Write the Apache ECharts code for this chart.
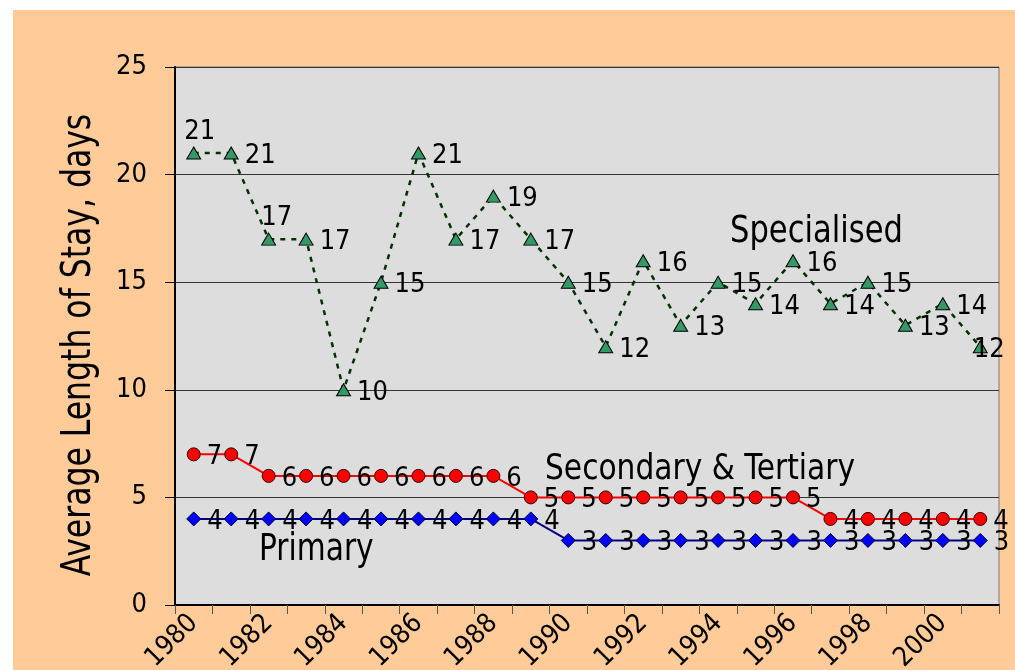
<!DOCTYPE html>
<html>
<head>
<meta charset="utf-8">
<script src="https://cdn.jsdelivr.net/npm/echarts@6/dist/echarts.min.js"></script>
<style>
  html, body { margin: 0; padding: 0; background: #ffffff; }
  #chart { position: absolute; left: 13px; top: 10px; width: 1002px; height: 660px; }
</style>
</head>
<body>
<div id="chart"></div>
<script>
// Average length of hospital stay by hospital type, 1980-2001
const years = ['1980','1981','1982','1983','1984','1985','1986','1987','1988','1989','1990',
               '1991','1992','1993','1994','1995','1996','1997','1998','1999','2000','2001'];
const specialised = [21, 21, 17, 17, 10, 15, 21, 17, 19, 17, 15, 12, 16, 13, 15, 14, 16, 14, 15, 13, 14, 12];
const secondaryTertiary = [7, 7, 6, 6, 6, 6, 6, 6, 6, 5, 5, 5, 5, 5, 5, 5, 5, 4, 4, 4, 4, 4];
const primary = [4, 4, 4, 4, 4, 4, 4, 4, 4, 4, 3, 3, 3, 3, 3, 3, 3, 3, 3, 3, 3, 3];
const yTicks = [0, 5, 10, 15, 20, 25];
const axisTitle = 'Average Length of Stay, days';
const seriesNames = ['Specialised', 'Secondary & Tertiary', 'Primary'];

const COND = '"DejaVu Sans Condensed", "Liberation Sans", sans-serif';

const valueLabel = {
  show: true,
  position: 'right',
  distance: 6,
  offset: [0, 3],
  color: '#000000',
  fontFamily: COND,
  fontSize: 27
};

// per-point label tweaks for the specialised line where labels would collide
const specialLabelTweaks = {
  0: { position: 'top', distance: 1, offset: [6, 0] },
  2: { position: 'top', distance: 1, offset: [8, 0] },
  21: { position: 'right', distance: 6, offset: [-20, 3] }
};

function withLabels(values, tweaks) {
  return values.map((v, i) => tweaks && tweaks[i] ? { value: v, label: tweaks[i] } : v);
}

// tall condensed caption text
function caption(text, x, y, size, stretch, extra) {
  return Object.assign({
    type: 'text', x: x, y: y, z: 10, scaleY: stretch,
    style: { text: text, font: size + 'px ' + COND, fill: '#000000', verticalAlign: 'middle', align: 'left' }
  }, extra || {});
}

const chart = echarts.init(document.getElementById('chart'), null, { renderer: 'canvas' });

chart.setOption({
  backgroundColor: '#FFCC99',
  animation: false,
  grid: {
    left: 162, top: 57, right: 16, bottom: 65,
    outerBoundsMode: 'none',
    containLabel: false,
    show: true,
    backgroundColor: '#DDDDDD',
    borderColor: '#777777',
    borderWidth: 1
  },
  xAxis: {
    type: 'category',
    data: years,
    boundaryGap: true,
    axisLine: { lineStyle: { color: '#000000', width: 2 } },
    axisTick: { show: true, interval: 0, length: 9, lineStyle: { color: '#555555', width: 1 } },
    axisLabel: {
      interval: 1,
      rotate: 45,
      margin: 14,
      color: '#000000',
      fontFamily: COND,
      fontSize: 27
    },
    splitLine: { show: false }
  },
  yAxis: {
    type: 'value',
    min: yTicks[0],
    max: yTicks[yTicks.length - 1],
    interval: 5,
    axisLine: { show: true, lineStyle: { color: '#000000', width: 2 } },
    axisTick: { show: true, length: 10, lineStyle: { color: '#000000', width: 1 } },
    axisLabel: {
      margin: 28,
      color: '#000000',
      fontFamily: COND,
      fontSize: 27
    },
    splitLine: { show: true, lineStyle: { color: '#333333', width: 1 } }
  },
  series: [
    {
      name: seriesNames[0],
      type: 'line',
      data: withLabels(specialised, specialLabelTweaks),
      symbol: 'triangle',
      symbolSize: [14, 12],
      itemStyle: { color: '#339966', borderColor: '#000000', borderWidth: 1 },
      lineStyle: { color: '#003300', width: 2.5, type: [5, 6] },
      label: valueLabel,
      z: 3
    },
    {
      name: seriesNames[1],
      type: 'line',
      data: secondaryTertiary,
      symbol: 'circle',
      symbolSize: 13,
      itemStyle: { color: '#FF0000', borderColor: '#330000', borderWidth: 1 },
      lineStyle: { color: '#FF0000', width: 2 },
      label: valueLabel,
      z: 2
    },
    {
      name: seriesNames[2],
      type: 'line',
      data: primary,
      symbol: 'diamond',
      symbolSize: 14,
      itemStyle: { color: '#0000FF', borderColor: '#000033', borderWidth: 1 },
      lineStyle: { color: '#000080', width: 2 },
      label: valueLabel,
      z: 2
    }
  ],
  graphic: [
    caption(axisTitle, 66, 335, 35, 1.17, {
      rotation: Math.PI / 2,
      style: { text: axisTitle, font: '35px ' + COND, fill: '#000000', verticalAlign: 'middle', align: 'center' }
    }),
    caption(seriesNames[0], 717, 222, 34, 1.1),
    caption(seriesNames[1], 532, 460, 33, 1.1),
    caption(seriesNames[2], 246, 540, 33, 1.15)
  ]
});
</script>
</body>
</html>
